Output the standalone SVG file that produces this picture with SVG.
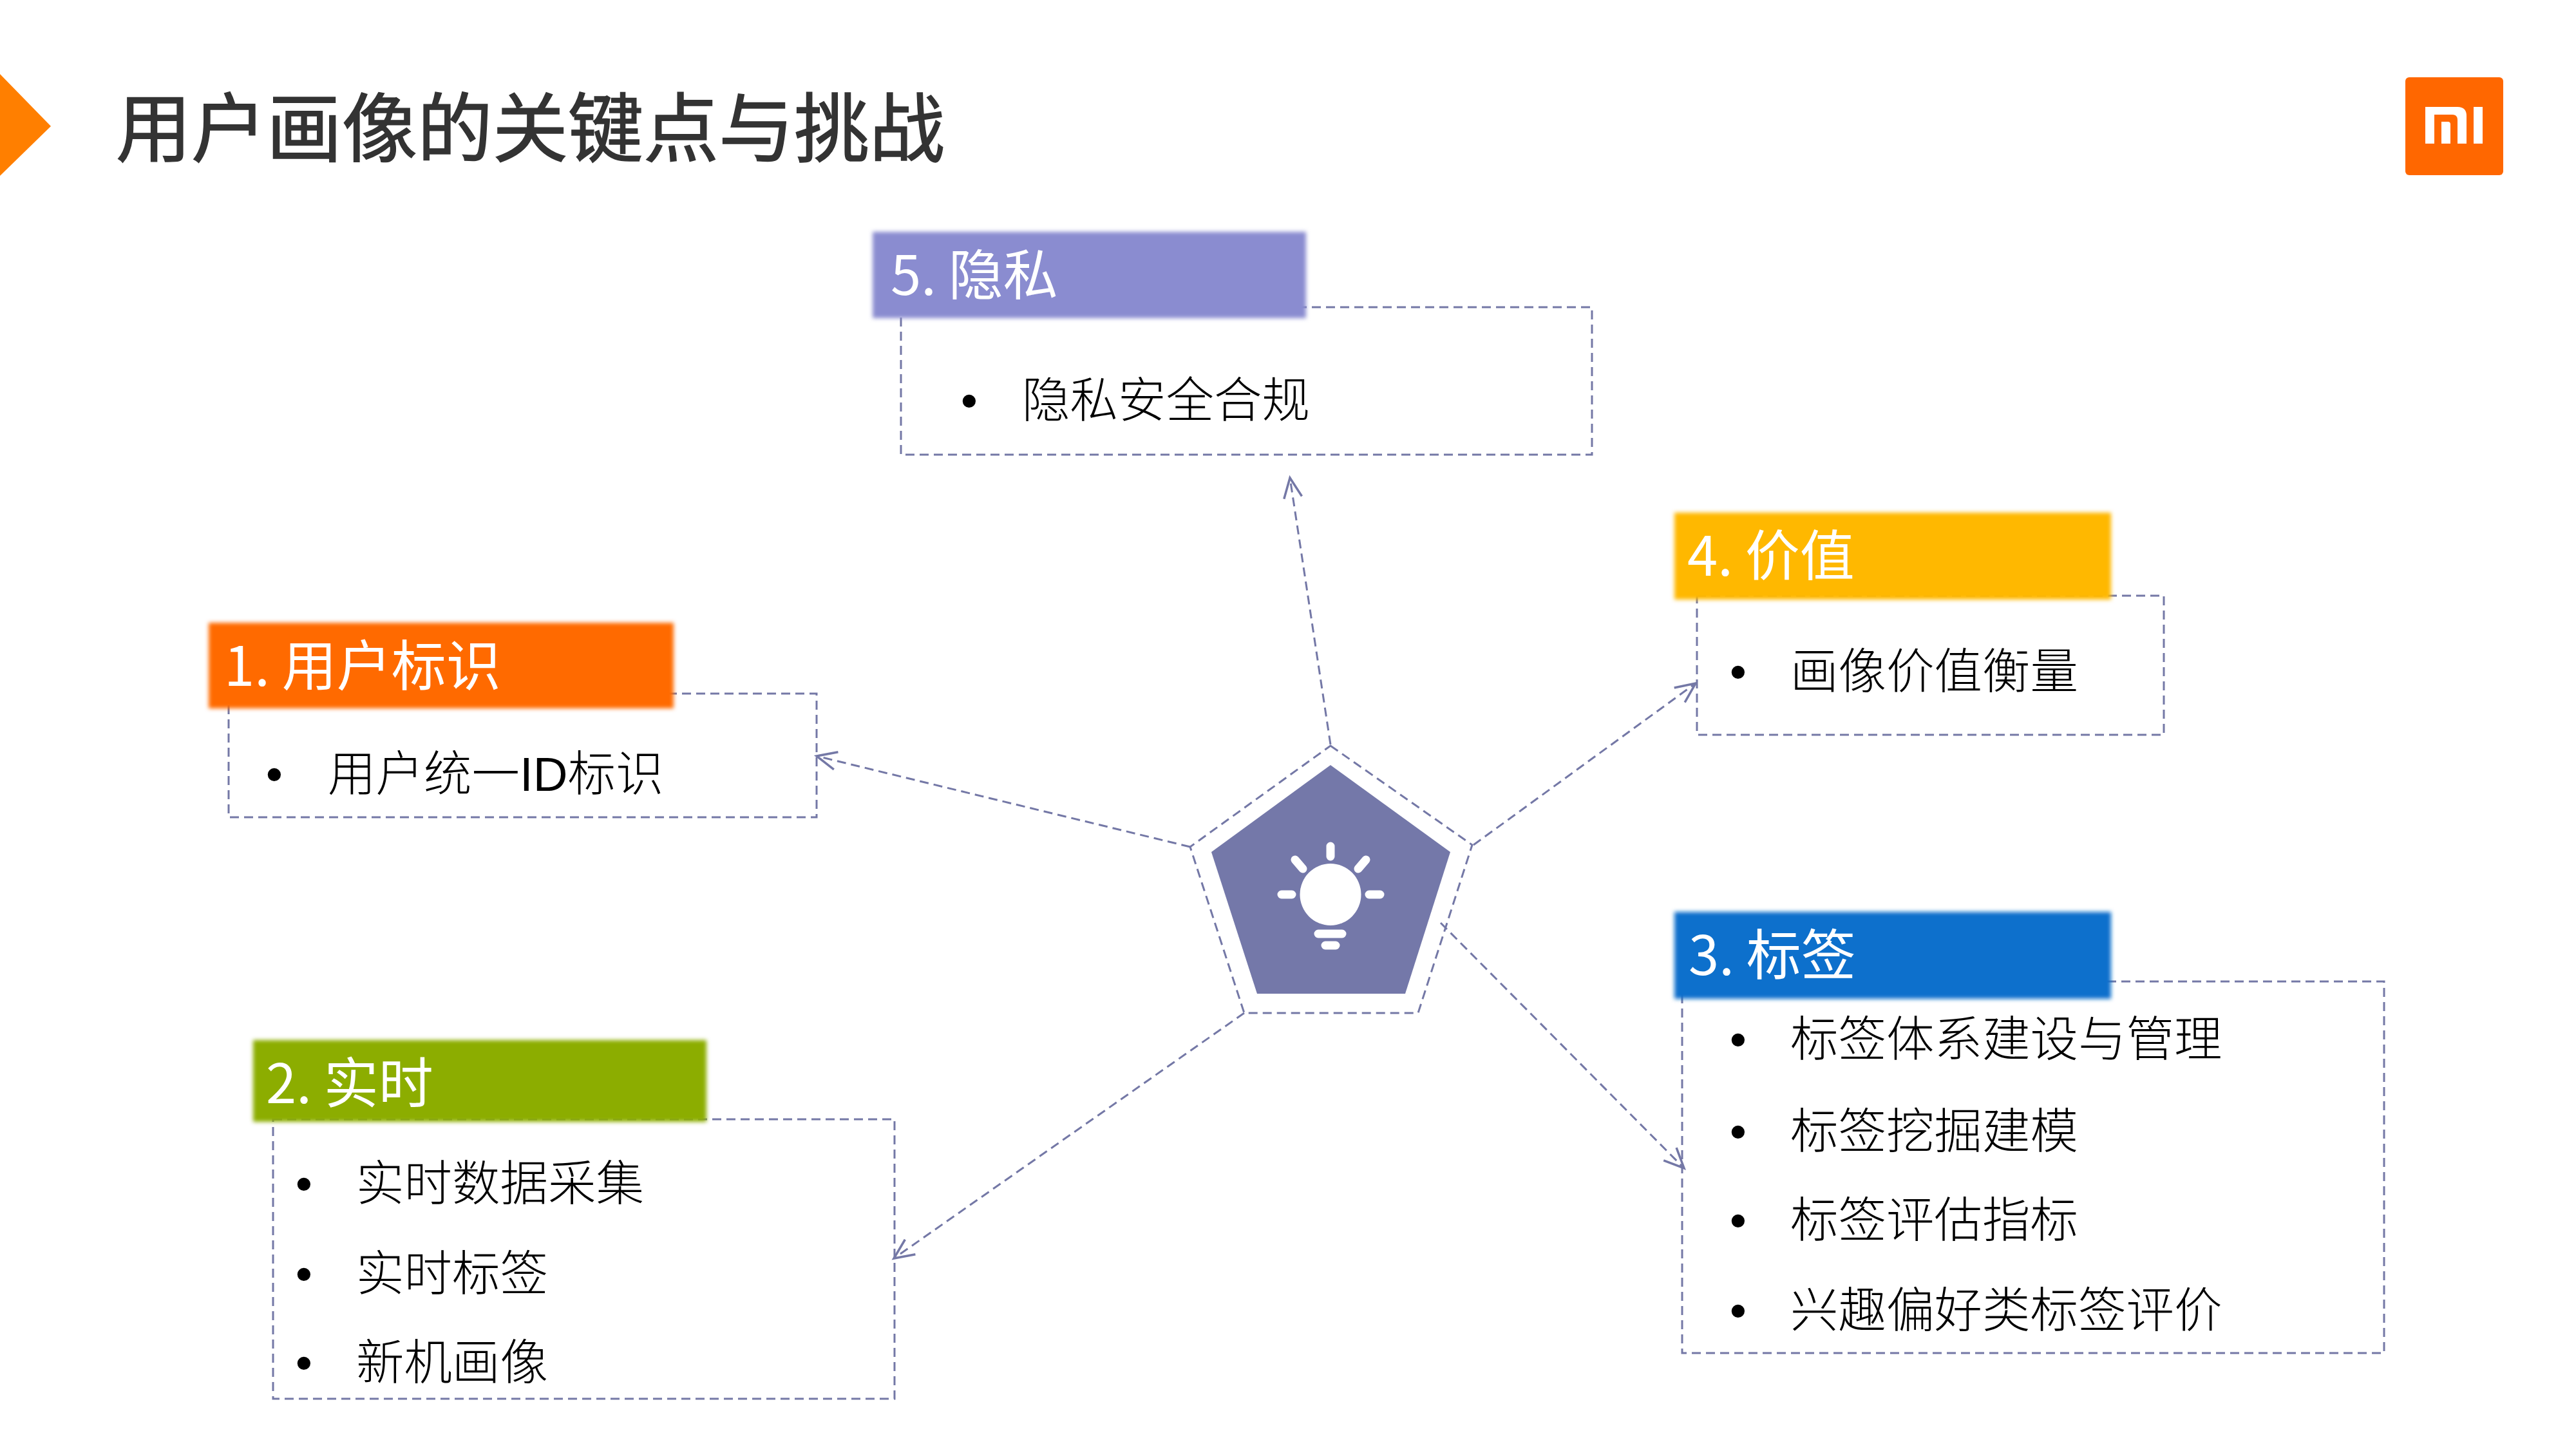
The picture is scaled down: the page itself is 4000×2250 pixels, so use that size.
<svg xmlns="http://www.w3.org/2000/svg" width="4000" height="2250" viewBox="0 0 4000 2250">
<defs>
<style>
text{font-family:"Noto Sans CJK SC","Liberation Sans",sans-serif}
.box{fill:none;stroke:#7478a6;stroke-width:3;stroke-dasharray:14 8}
.conn{fill:none;stroke:#7478a6;stroke-width:3;stroke-dasharray:14 8;marker-end:url(#arrow)}
.head{font-size:85px;fill:#fff;font-weight:400}
.item{font-size:74.5px;fill:#000;font-weight:300}
.lat{font-family:"Liberation Sans",sans-serif;font-weight:400}
.bul{font-size:75px;fill:#000;font-family:"Liberation Sans",sans-serif;text-anchor:middle}
.w{fill:#fff}
</style>
<marker id="arrow" markerUnits="userSpaceOnUse" markerWidth="44" markerHeight="44" refX="33" refY="22" orient="auto" viewBox="0 0 44 44">
<path d="M2 8L33 22L2 36" fill="none" stroke="#7478a6" stroke-width="3.5"/>
</marker>
<filter id="soft" x="-5%" y="-10%" width="110%" height="120%"><feGaussianBlur stdDeviation="3"/></filter>
</defs>
<rect width="4000" height="2250" fill="#fff"/>
<g id="title">
<polygon points="0,115 79,196 0,273" fill="#ff7f00"/>
<text x="180" y="242" font-size="117" fill="#333" stroke="#333" stroke-width="1.5">用户画像的关键点与挑战</text>
</g>
<g id="logo">
<rect x="3735" y="120" width="152" height="152" rx="6" fill="#ff6700"/>
<path class="w" d="M3766 166H3816Q3830 166 3830 180V223H3816V186Q3816 178 3808 178H3780V223H3766Z"/>
<path class="w" d="M3791 189H3801Q3805 189 3805 193V223H3791Z"/>
<rect class="w" x="3841" y="166" width="14" height="57"/>
</g>
<g id="connectors">
<path class="conn" d="M2066 1156L2003 742"/>
<path class="conn" d="M1848 1315L1268 1174"/>
<path class="conn" d="M2288 1312L2633 1061"/>
<path class="conn" d="M2237 1433L2615 1814"/>
<path class="conn" d="M1932 1573L1388 1954"/>
</g>
<g id="center">
<polygon points="2066,1158 2286,1312 2202,1573 1932,1573 1848,1315" fill="none" stroke="#7478a6" stroke-width="3" stroke-dasharray="14 8"/>
<polygon points="2066,1188 2252,1323 2182,1543 1952,1543 1881,1323" fill="#7478a9"/>
<ellipse class="w" cx="2066" cy="1389" rx="47.5" ry="48"/>
<g fill="none" stroke="#fff" stroke-width="13" stroke-linecap="round">
<path d="M2066 1314V1330M2011 1335L2023 1349M2121 1335L2109 1349M1990 1389H2006M2126 1389H2143M2047 1450H2084M2058 1468H2074"/>
</g>
</g>
<g id="node5">
<rect x="1399" y="477" width="1073" height="229" class="box"/>
<rect x="1355" y="360" width="673" height="134" fill="#8a8cd0" filter="url(#soft)"/>
<text class="head" x="1383" y="458">5. 隐私</text>
<text class="bul" x="1505" y="648">•</text>
<text class="item" x="1587" y="648">隐私安全合规</text>
</g>
<g id="node1">
<rect x="355" y="1077" width="913" height="192" class="box"/>
<rect x="324" y="967" width="722" height="133" fill="#ff6a00" filter="url(#soft)"/>
<text class="head" x="348" y="1065">1. 用户标识</text>
<text class="bul" x="426" y="1228">•</text>
<text class="item" x="509" y="1228">用户统一<tspan class="lat">ID</tspan>标识</text>
</g>
<g id="node2">
<rect x="424" y="1738" width="965" height="434" class="box"/>
<rect x="393" y="1615" width="704" height="127" fill="#8cad00" filter="url(#soft)"/>
<text class="head" x="413" y="1713">2. 实时</text>
<text class="bul" x="472" y="1864">•</text>
<text class="item" x="553" y="1864">实时数据采集</text>
<text class="bul" x="472" y="2004">•</text>
<text class="item" x="553" y="2004">实时标签</text>
<text class="bul" x="472" y="2142">•</text>
<text class="item" x="553" y="2142">新机画像</text>
</g>
<g id="node3">
<rect x="2612" y="1524" width="1090" height="577" class="box"/>
<rect x="2600" y="1416" width="678" height="135" fill="#1170cc" filter="url(#soft)"/>
<text class="head" x="2622" y="1514">3. 标签</text>
<text class="bul" x="2699" y="1640">•</text>
<text class="item" x="2780" y="1640">标签体系建设与管理</text>
<text class="bul" x="2699" y="1783">•</text>
<text class="item" x="2780" y="1783">标签挖掘建模</text>
<text class="bul" x="2699" y="1921">•</text>
<text class="item" x="2780" y="1921">标签评估指标</text>
<text class="bul" x="2699" y="2061">•</text>
<text class="item" x="2780" y="2061">兴趣偏好类标签评价</text>
</g>
<g id="node4">
<rect x="2635" y="925" width="725" height="216" class="box"/>
<rect x="2600" y="796" width="678" height="135" fill="#ffb800" filter="url(#soft)"/>
<text class="head" x="2620" y="894">4. 价值</text>
<text class="bul" x="2699" y="1069">•</text>
<text class="item" x="2780" y="1069">画像价值衡量</text>
</g>
</svg>
